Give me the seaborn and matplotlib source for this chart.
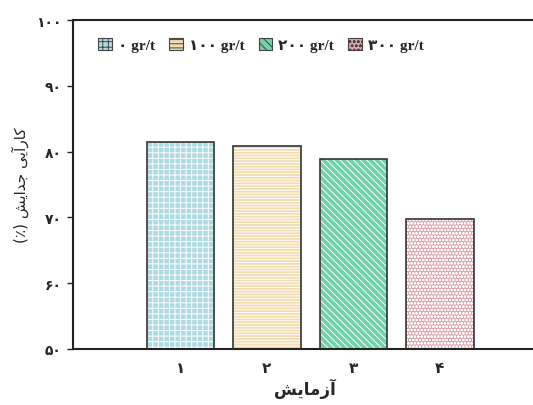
import matplotlib
matplotlib.use("Agg")
import matplotlib.pyplot as plt
import seaborn as sns
import pandas as pd
from matplotlib.patches import Patch

# Data
experiments = ["\u06f1", "\u06f2", "\u06f3", "\u06f4"]          # ۱ ۲ ۳ ۴
doses = ["\u06f0 gr/t", "\u06f1\u06f0\u06f0 gr/t", "\u06f2\u06f0\u06f0 gr/t", "\u06f3\u06f0\u06f0 gr/t"]
efficiency = [81.4, 80.9, 78.9, 69.8]
yticks = [50, 60, 70, 80, 90, 100]
ytick_labels = ["\u06f5\u06f0", "\u06f6\u06f0", "\u06f7\u06f0", "\u06f8\u06f0", "\u06f9\u06f0", "\u06f1\u06f0\u06f0"]

# Persian labels in visual (presentation-form) order
xlabel = "\uFEB6\uFEF3\uFE8E\uFEE3\uFEAF\uFE81"  # آزمایش
ylabel = "(\u066a) " + "\uFEB6\uFEF3\uFE8D\uFEAA\uFE9F" + " " + "\uFEF0\uFEF3\uFE81\uFEAD\uFE8E\uFB90"  # کارآیی جدایش (٪)

colors = ["#aedbe3", "#f2dcb0", "#72d0aa", "#e2a3aa"]
hatches = ["+++", "------", "\\\\\\\\\\", "ooooo"]

df = pd.DataFrame({"exp": experiments, "dose": doses, "eff": efficiency})

sns.set_style("white")
plt.rcParams["font.family"] = ["DejaVu Sans"]
plt.rcParams["hatch.linewidth"] = 0.7

fig = plt.figure(figsize=(5.33, 4.06), dpi=100)
ax = fig.add_axes([0.137, 0.138, 0.87, 0.81])

sns.barplot(data=df, x="exp", y="eff", hue="dose", palette=colors, dodge=False,
            width=0.78, ax=ax, legend=False, saturation=1)

for i, cont in enumerate(ax.containers):
    for p in cont:
        if p.get_height() == 0 or pd.isna(p.get_height()):
            continue
        p.set_hatch(hatches[i])
        p.set_edgecolor("#ffffff")
        p.set_linewidth(0)
# outlines
ax.bar(range(len(experiments)), efficiency, width=0.78, fill=False,
       edgecolor="#333333", linewidth=1.2, zorder=3)

ax.set_ylim(50, 100)
ax.set_xlim(-1.24, 4.12)
ax.set_yticks(yticks)
ax.set_yticklabels(ytick_labels, fontsize=10, fontweight="bold")
ax.set_xticks(range(len(experiments)))
ax.set_xticklabels(experiments, fontsize=11, fontweight="bold")
ax.tick_params(axis="y", direction="out", length=4, width=1, left=True, pad=4)
ax.tick_params(axis="x", length=0, pad=8)

for s in ["left", "bottom", "top"]:
    ax.spines[s].set_linewidth(1.5)
    ax.spines[s].set_color("#222222")
ax.spines["right"].set_visible(False)

ax.set_xlabel(xlabel, fontsize=12, fontweight="bold", labelpad=2)
ax.set_ylabel(ylabel, fontsize=11, labelpad=5)

handles = [Patch(facecolor=c, hatch=h, edgecolor="#444444", linewidth=0.8)
           for c, h in zip(colors, ["+++", "----", "\\\\\\\\", "oooo"])]
leg = ax.legend(handles, doses, ncol=4, loc="upper left", bbox_to_anchor=(0.035, 0.975),
                frameon=False, handlelength=0.9, handleheight=0.9, handletextpad=0.4,
                columnspacing=0.9, borderaxespad=0.2,
                prop={"family": ["Liberation Serif", "DejaVu Sans"], "weight": "bold", "size": 11})

fig.savefig("out.png", dpi=100, facecolor="white")
